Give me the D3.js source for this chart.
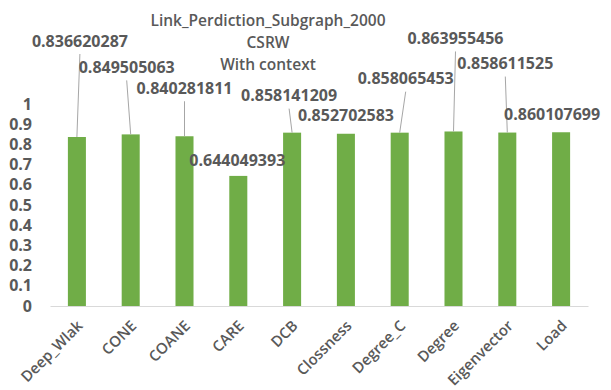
<!DOCTYPE html>
<html>
<head>
<meta charset="utf-8">
<script src="https://cdn.jsdelivr.net/npm/d3@7/dist/d3.min.js"></script>
<style>
  html, body { margin: 0; padding: 0; background: #ffffff; }
  svg { display: block; }
  text { font-family: "Open Sans", "Noto Sans", sans-serif; fill: #595959; font-weight: 700; }
</style>
</head>
<body>
<svg id="chart" width="611" height="390"></svg>
<script>
// Link prediction scores per method
const categories = ["Deep_Wlak", "CONE", "COANE", "CARE", "DCB", "Clossness", "Degree_C", "Degree", "Eigenvector", "Load"];
const values = [0.836620287, 0.849505063, 0.840281811, 0.644049393, 0.858141209, 0.852702583, 0.858065453, 0.863955456, 0.858611525, 0.860107699];
const yTicks = [0, 0.1, 0.2, 0.3, 0.4, 0.5, 0.6, 0.7, 0.8, 0.9, 1];
const titleLines = ["Link_Perdiction_Subgraph_2000", "CSRW", "With context"];

// Hand-placed data label offsets (pixels from the top centre of each bar)
const labelDx = [3, -4, 0, -1, -3, 0, 6, 2, -2, -9];
const labelDy = [-96, -67, -48, -16, -37, -18, -54, -93, -69, -18];

const svg = d3.select("#chart");
const plotLeft = 50, plotRight = 588, plotTop = 104, plotBottom = 306;

const x = d3.scaleBand()
  .domain(categories)
  .range([plotLeft, plotRight])
  .paddingInner(0.665)
  .paddingOuter(0.3325);

const y = d3.scaleLinear().domain([0, 1]).range([plotBottom, plotTop]);

// Title
svg.append("g")
  .selectAll("text")
  .data(titleLines)
  .join("text")
  .attr("x", 268)
  .attr("y", (d, i) => 21 + i * 22)
  .attr("dy", "0.35em")
  .attr("text-anchor", "middle")
  .style("font-size", "15.5px")
  .style("font-weight", 600)
  .text(d => d);

// Y axis labels (no axis line, no ticks)
const yAxis = d3.axisLeft(y).tickValues(yTicks).tickSize(0).tickPadding(0)
  .tickFormat(d => d3.format("")(+d.toFixed(1)));
const gy = svg.append("g").attr("transform", `translate(32,0)`).call(yAxis);
gy.select(".domain").remove();
gy.selectAll("text")
  .attr("fill", "#595959")
  .style("font-family", "'Open Sans', sans-serif")
  .style("font-size", "16px")
  .style("font-weight", 700);

// Bars
svg.append("g")
  .selectAll("rect")
  .data(values)
  .join("rect")
  .attr("x", (d, i) => x(categories[i]))
  .attr("y", d => y(d))
  .attr("width", x.bandwidth())
  .attr("height", d => y(0) - y(d))
  .attr("fill", "#70ad47");

// X axis baseline (labels drawn separately, rotated)
const xAxis = d3.axisBottom(x).tickSize(0).tickFormat(() => "");
const gx = svg.append("g").attr("transform", `translate(0,${plotBottom})`).call(xAxis);
gx.select(".domain").attr("stroke", "#d9d9d9").attr("stroke-width", 1.2);

svg.append("g")
  .selectAll("g")
  .data(categories)
  .join("g")
  .attr("transform", d => `translate(${x(d) + x.bandwidth() / 2 + 3},${plotBottom + 17}) rotate(-45)`)
  .append("text")
  .attr("text-anchor", "end")
  .attr("dy", "0.35em")
  .style("font-size", "15px")
  .style("font-weight", 600)
  .text(d => d);

// Data labels with leader lines
const labels = values.map((v, i) => {
  const bx = x(categories[i]) + x.bandwidth() / 2;
  const by = y(v);
  return { v, bx, by, lx: bx + labelDx[i], ly: by + labelDy[i], lead: labelDy[i] < -25 };
});

svg.append("g")
  .selectAll("line")
  .data(labels.filter(d => d.lead))
  .join("line")
  .attr("x1", d => d.lx)
  .attr("y1", d => d.ly + 13)
  .attr("x2", d => d.bx)
  .attr("y2", d => d.by)
  .attr("stroke", "#a6a6a6")
  .attr("stroke-width", 1);

svg.append("g")
  .selectAll("text")
  .data(labels)
  .join("text")
  .attr("x", d => d.lx)
  .attr("y", d => d.ly)
  .attr("dy", "0.35em")
  .attr("text-anchor", "middle")
  .style("font-size", "16px")
  .text(d => d.v.toFixed(9));
</script>
</body>
</html>
